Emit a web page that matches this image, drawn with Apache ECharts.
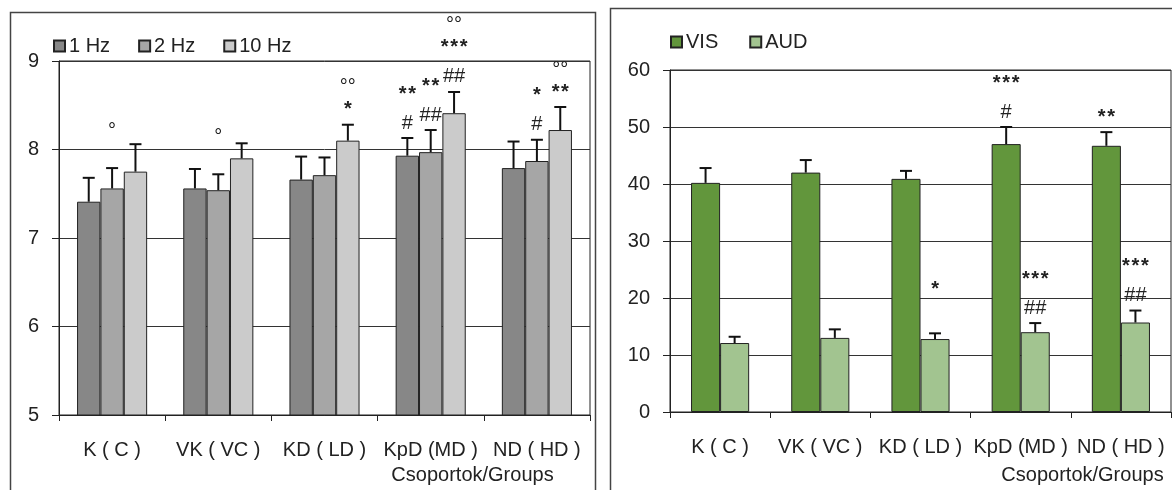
<!DOCTYPE html>
<html>
<head>
<meta charset="utf-8">
<script src="https://cdn.jsdelivr.net/npm/echarts@6/dist/echarts.min.js"></script>
<style>
  html, body { margin: 0; padding: 0; background: #fff; }
  #chart { width: 1172px; height: 490px; }
</style>
</head>
<body>
<div id="chart"></div>
<script>
// Group labels shared by both panels
const groups = ['K ( C )', 'VK ( VC )', 'KD ( LD )', 'KpD (MD )', 'ND ( HD )'];
const groupAxisName = 'Csoportok/Groups';

// Left panel: stimulation frequency
const freqNames = ['1 Hz', '2 Hz', '10 Hz'];
const hz1 = [7.41, 7.56, 7.66, 7.93, 7.79];
const hz1Err = [0.27, 0.22, 0.26, 0.20, 0.30];
const hz2 = [7.56, 7.54, 7.71, 7.97, 7.87];
const hz2Err = [0.23, 0.18, 0.20, 0.25, 0.24];
const hz10 = [7.75, 7.90, 8.10, 8.41, 8.22];
const hz10Err = [0.31, 0.17, 0.18, 0.24, 0.26];
// significance marks, listed top line first
const hz1Marks = [[], [], [], ['**', '#'], []];
const hz2Marks = [['°', ''], ['°', ''], [], ['**', '##'], ['*', '#']];
const hz10Marks = [[], [], ['°°', '*'], ['°°', '***', '##'], ['°°', '**']];
const freqTicks = [5, 6, 7, 8, 9];

// Right panel: modality
const modNames = ['VIS', 'AUD'];
const vis = [40.2, 42.0, 40.9, 47.0, 46.7];
const visErr = [2.6, 2.2, 1.4, 3.0, 2.4];
const aud = [12.1, 13.0, 12.8, 14.0, 15.7];
const audErr = [1.1, 1.5, 1.0, 1.6, 2.1];
const visMarks = [[], [], [], ['***', '#'], ['**']];
const audMarks = [[], [], ['*', ''], ['***', '##'], ['***', '##']];
const modTicks = [0, 10, 20, 30, 40, 50, 60];

const INK = '#222';
const FONT = 'Liberation Sans, Arial, sans-serif';
const FREQ_GAP = 0.34;
const MOD_GAP = 0.42;

// text style for one line of significance marks
function markStyle(s) {
  const stars = s.indexOf('*') >= 0;
  return {
    text: stars ? s.split('').join('\u200A') : s,
    fill: INK,
    fontSize: 20,
    fontWeight: stars ? 'bold' : 'normal',
    fontFamily: FONT,
    align: 'center',
    verticalAlign: 'middle'
  };
}

// error whiskers (upward only) plus the significance marks stacked above them
function whiskerLayer(axisIdx, values, errs, marks, k, n, catGap) {
  return {
    type: 'custom',
    xAxisIndex: axisIdx,
    yAxisIndex: axisIdx,
    z: 5,
    silent: true,
    clip: false,
    data: values.map((v, i) => [i, v, errs[i]]),
    encode: { x: 0, y: 1 },
    renderItem(params, api) {
      const i = api.value(0);
      const v = api.value(1);
      const e = api.value(2);
      const band = api.size([1, 0])[0];
      const bw = band * (1 - catGap) / n;
      const base = api.coord([i, v]);
      const x = base[0] + (k - (n - 1) / 2) * bw;
      const top = api.coord([i, v + e])[1];
      const children = [
        { type: 'line', shape: { x1: x, y1: base[1], x2: x, y2: top }, style: { stroke: '#111', lineWidth: 2 } },
        { type: 'line', shape: { x1: x - 6, y1: top, x2: x + 6, y2: top }, style: { stroke: '#111', lineWidth: 2 } }
      ];
      const lines = marks[i];
      let y = top - 15;
      for (let j = lines.length - 1; j >= 0; j--) {
        const s = lines[j];
        if (s) {
          children.push({ type: 'text', x: x, y: y, style: markStyle(s) });
        }
        if (j > 0) y -= lines[j - 1].indexOf('°') >= 0 ? 22 : 29;
      }
      return { type: 'group', children: children };
    }
  };
}

function barSeries(name, axisIdx, values, color, catGap) {
  return {
    name: name,
    type: 'bar',
    xAxisIndex: axisIdx,
    yAxisIndex: axisIdx,
    data: values,
    barGap: '0%',
    barCategoryGap: (catGap * 100) + '%',
    itemStyle: { color: color, borderColor: INK, borderWidth: 1 },
    emphasis: { disabled: true }
  };
}

function categoryAxis(gridIdx, nameShift, nameGap) {
  return {
    type: 'category',
    gridIndex: gridIdx,
    data: groups,
    boundaryGap: true,
    axisLine: { lineStyle: { color: INK, width: 1 } },
    axisTick: { show: true, length: 6, lineStyle: { color: INK } },
    axisLabel: { interval: 0, margin: 25, fontSize: 20, fontFamily: FONT, color: INK },
    name: groupAxisName,
    nameLocation: 'middle',
    nameGap: nameGap,
    nameTextStyle: { fontSize: 20, fontFamily: FONT, color: INK, padding: [0, 0, 0, nameShift] }
  };
}

function valueAxis(gridIdx, ticks) {
  return {
    type: 'value',
    gridIndex: gridIdx,
    min: ticks[0],
    max: ticks[ticks.length - 1],
    interval: ticks[1] - ticks[0],
    axisLine: { show: true, lineStyle: { color: INK, width: 1 } },
    axisTick: { show: true, length: 7, lineStyle: { color: INK } },
    axisLabel: { margin: 20, fontSize: 20, fontFamily: FONT, color: INK },
    splitLine: { show: true, lineStyle: { color: '#333', width: 1 } }
  };
}

const legendBase = {
  icon: 'rect',
  itemWidth: 11,
  itemHeight: 11,
  itemGap: 28,
  selectedMode: false,
  textStyle: { fontSize: 20, fontFamily: FONT, color: INK, padding: [0, 0, 0, -1] }
};

const chart = echarts.init(document.getElementById('chart'), null, { renderer: 'canvas' });

chart.setOption({
  animation: false,
  backgroundColor: '#fff',
  grid: [
    { left: 59, top: 61, width: 531, height: 357, show: true, borderColor: INK, borderWidth: 1, backgroundColor: 'transparent' },
    { left: 670, top: 70, width: 501, height: 343, show: true, borderColor: INK, borderWidth: 1, backgroundColor: 'transparent' }
  ],
  legend: [
    Object.assign({}, legendBase, { data: freqNames, left: 48, top: 31 }),
    Object.assign({}, legendBase, { data: modNames, left: 665, top: 27, itemGap: 31 })
  ],
  xAxis: [categoryAxis(0, 296, 50), categoryAxis(1, 324, 53)],
  yAxis: [valueAxis(0, freqTicks), valueAxis(1, modTicks)],
  graphic: [
    { type: 'rect', shape: { x: 10.5, y: 12.5, width: 585, height: 520 }, style: { fill: 'none', stroke: '#444', lineWidth: 1.5 }, silent: true, z: 0 },
    { type: 'rect', shape: { x: 610.5, y: 8.5, width: 600, height: 520 }, style: { fill: 'none', stroke: '#444', lineWidth: 1.5 }, silent: true, z: 0 }
  ],
  series: [
    barSeries(freqNames[0], 0, hz1, '#878787', FREQ_GAP),
    barSeries(freqNames[1], 0, hz2, '#a6a6a6', FREQ_GAP),
    barSeries(freqNames[2], 0, hz10, '#cbcbcb', FREQ_GAP),
    whiskerLayer(0, hz1, hz1Err, hz1Marks, 0, 3, FREQ_GAP),
    whiskerLayer(0, hz2, hz2Err, hz2Marks, 1, 3, FREQ_GAP),
    whiskerLayer(0, hz10, hz10Err, hz10Marks, 2, 3, FREQ_GAP),
    barSeries(modNames[0], 1, vis, '#62963c', MOD_GAP),
    barSeries(modNames[1], 1, aud, '#a2c490', MOD_GAP),
    whiskerLayer(1, vis, visErr, visMarks, 0, 2, MOD_GAP),
    whiskerLayer(1, aud, audErr, audMarks, 1, 2, MOD_GAP)
  ]
});
</script>
</body>
</html>
